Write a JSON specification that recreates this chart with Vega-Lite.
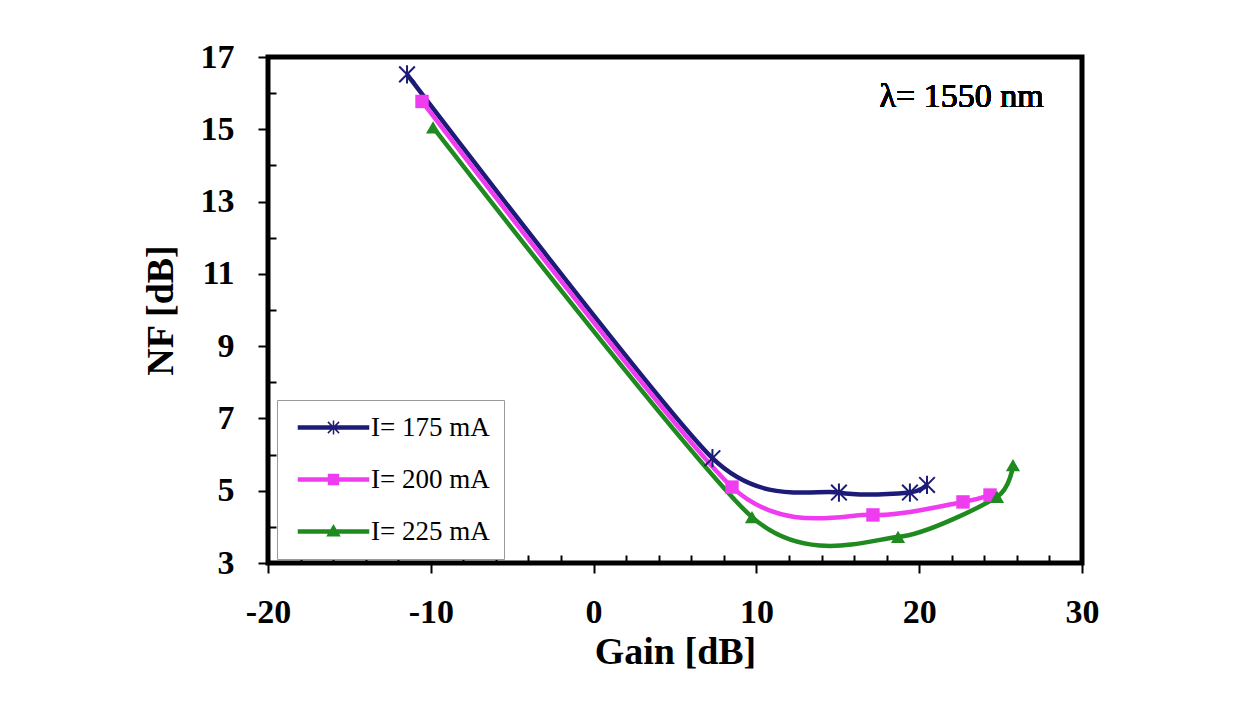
{
  "$schema": "https://vega.github.io/schema/vega-lite/v6.json",
  "width": 814,
  "height": 506,
  "autosize": {"type": "none"},
  "padding": {"left": 268, "top": 57, "right": 175, "bottom": 141},
  "background": "white",
  "config": {
    "view": {"stroke": "black", "strokeWidth": 5},
    "font": "Liberation Serif"
  },
  "resolve": {"axis": {"x": "independent", "y": "independent"}},
  "data": {
    "values": [
      {"series": "I= 175 mA", "gain": -11.46, "nf": 16.52},
      {"series": "I= 175 mA", "gain": 7.3, "nf": 5.9},
      {"series": "I= 175 mA", "gain": 15.07, "nf": 4.95},
      {"series": "I= 175 mA", "gain": 19.43, "nf": 4.95},
      {"series": "I= 175 mA", "gain": 20.48, "nf": 5.16},
      {"series": "I= 200 mA", "gain": -10.54, "nf": 15.77},
      {"series": "I= 200 mA", "gain": 8.5, "nf": 5.1},
      {"series": "I= 200 mA", "gain": 17.16, "nf": 4.33},
      {"series": "I= 200 mA", "gain": 22.69, "nf": 4.69},
      {"series": "I= 200 mA", "gain": 24.35, "nf": 4.88},
      {"series": "I= 225 mA", "gain": -9.86, "nf": 15.05},
      {"series": "I= 225 mA", "gain": 9.73, "nf": 4.27},
      {"series": "I= 225 mA", "gain": 18.7, "nf": 3.72},
      {"series": "I= 225 mA", "gain": 24.78, "nf": 4.83},
      {"series": "I= 225 mA", "gain": 25.76, "nf": 5.71}
    ]
  },
  "layer": [
    {
      "mark": {"type": "line", "interpolate": "cardinal", "tension": 0.3, "strokeWidth": 4.5},
      "encoding": {
        "x": {
          "field": "gain", "type": "quantitative",
          "scale": {"domain": [-20, 30], "nice": false, "zero": false},
          "axis": {
            "orient": "bottom",
            "values": [-20, -10, 0, 10, 20, 30],
            "labelExpr": "replace(format(datum.value, 'd'), '\u2212', '-')",
            "tickSize": 10, "tickWidth": 2, "tickColor": "black",
            "domain": false, "grid": false,
            "labelFont": "Liberation Serif", "labelFontWeight": "bold", "labelFontSize": 34, "labelColor": "black",
            "labelPadding": 22, "labelOverlap": false, "labelFlush": false, "labelBound": false,
            "title": "Gain [dB]", "titleFont": "Liberation Serif", "titleFontSize": 38, "titleFontWeight": "bold",
            "titleColor": "black", "titlePadding": 4
          }
        },
        "y": {
          "field": "nf", "type": "quantitative",
          "scale": {"domain": [3, 17], "nice": false, "zero": false},
          "axis": {
            "orient": "left",
            "values": [3, 5, 7, 9, 11, 13, 15, 17],
            "labelExpr": "format(datum.value, 'd')",
            "tickSize": 10, "tickWidth": 2, "tickColor": "black",
            "domain": false, "grid": false,
            "labelFont": "Liberation Serif", "labelFontWeight": "bold", "labelFontSize": 34, "labelColor": "black",
            "labelPadding": 24, "labelOverlap": false, "labelFlush": false, "labelBound": false,
            "title": "NF [dB]", "titleFont": "Liberation Serif", "titleFontSize": 38, "titleFontWeight": "bold",
            "titleColor": "black", "titlePadding": 20
          }
        },
        "color": {
          "field": "series", "type": "nominal",
          "scale": {"domain": ["I= 175 mA", "I= 200 mA", "I= 225 mA"], "range": ["#1c1c78", "#f03cf0", "#1f8a1f"]},
          "legend": {
            "orient": "none", "legendX": 9, "legendY": 343,
            "title": null,
            "padding": 14, "strokeColor": "#999999", "fillColor": "white", "cornerRadius": 0,
            "labelFont": "Liberation Serif", "labelFontSize": 27, "labelColor": "black",
            "symbolSize": 196, "symbolOffset": 1, "labelOffset": 52, "rowPadding": 24,
            "symbolStrokeWidth": 1.5, "symbolOpacity": 1
          }
        }
      }
    },
    {
      "mark": {"type": "point", "filled": true, "opacity": 0, "size": 196, "strokeWidth": 1.5},
      "encoding": {
        "x": {
          "field": "gain", "type": "quantitative",
          "axis": {
            "orient": "bottom",
            "values": [-18,-16,-14,-12,-8,-6,-4,-2,2,4,6,8,12,14,16,18,22,24,26,28],
            "tickCount": 60,
            "tickSize": -8, "tickWidth": 2, "tickColor": "black",
            "labels": false, "domain": false, "grid": false, "title": null
          }
        },
        "y": {
          "field": "nf", "type": "quantitative",
          "axis": {
            "orient": "left",
            "values": [4, 6, 8, 10, 12, 14, 16],
            "tickCount": 60,
            "tickSize": -8, "tickWidth": 2, "tickColor": "black",
            "labels": false, "domain": false, "grid": false, "title": null
          }
        },
        "color": {"field": "series", "type": "nominal"},
        "stroke": {
          "field": "series", "type": "nominal",
          "scale": {"domain": ["I= 175 mA", "I= 200 mA", "I= 225 mA"], "range": ["#1c1c78", "#f03cf0", "#1f8a1f"]},
          "legend": null
        },
        "shape": {
          "field": "series", "type": "nominal",
          "scale": {"domain": ["I= 175 mA", "I= 200 mA", "I= 225 mA"], "range": ["M-1,-0.2H9V0.2H-1ZM3.2,-0.8L4.8,0.8M3.2,0.8L4.8,-0.8M4,-1V1", "M-1,-0.2H9V0.2H-1ZM3.3,-0.7H4.7V0.7H3.3Z", "M-1,-0.2H9V0.2H-1ZM4,-0.85L4.85,0.6H3.15Z"]},
          "legend": null
        }
      }
    },
    {
      "transform": [{"filter": "datum.series === 'I= 175 mA'"}],
      "mark": {"type": "point", "shape": "M-1.2,-1.2L1.2,1.2M-1.2,1.2L1.2,-1.2M0,-1.4V1.4", "filled": false, "color": "#1c1c78", "size": 170, "strokeWidth": 2, "opacity": 1},
      "encoding": {
        "x": {"field": "gain", "type": "quantitative", "axis": null},
        "y": {"field": "nf", "type": "quantitative", "axis": null}
      }
    },
    {
      "transform": [{"filter": "datum.series === 'I= 200 mA'"}],
      "mark": {"type": "point", "shape": "square", "filled": true, "color": "#f03cf0", "size": 180, "opacity": 1},
      "encoding": {
        "x": {"field": "gain", "type": "quantitative", "axis": null},
        "y": {"field": "nf", "type": "quantitative", "axis": null}
      }
    },
    {
      "transform": [{"filter": "datum.series === 'I= 225 mA'"}],
      "mark": {"type": "point", "shape": "triangle-up", "filled": true, "color": "#1f8a1f", "size": 200, "opacity": 1},
      "encoding": {
        "x": {"field": "gain", "type": "quantitative", "axis": null},
        "y": {"field": "nf", "type": "quantitative", "axis": null}
      }
    },
    {
      "mark": {"type": "text", "font": "Liberation Serif", "fontSize": 34, "fontWeight": "normal", "color": "black", "align": "center", "baseline": "middle"},
      "encoding": {
        "x": {"datum": 22.6, "type": "quantitative", "axis": null},
        "y": {"datum": 15.9, "type": "quantitative", "axis": null},
        "text": {"value": "λ= 1550 nm"}
      }
    }
  ]
}
